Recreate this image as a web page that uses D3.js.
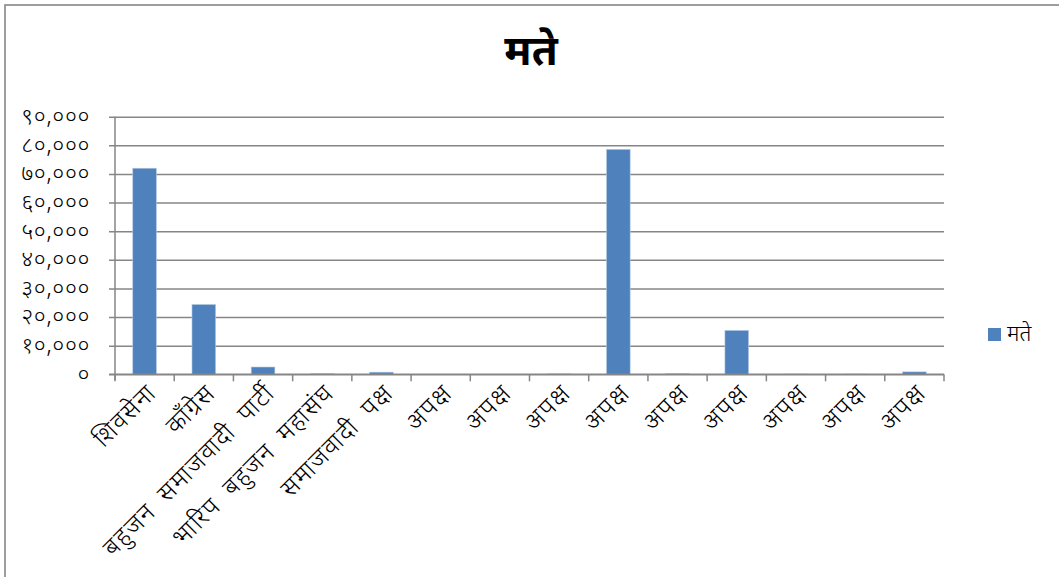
<!DOCTYPE html>
<html>
<head>
<meta charset="utf-8">
<script src="https://cdn.jsdelivr.net/npm/d3@7"></script>
<style>
  html, body { margin: 0; padding: 0; background: #fff; }
  svg { display: block; }
  text { font-family: "Noto Sans Devanagari", "Lohit Devanagari", "Mangal", "Noto Sans", sans-serif; fill: #000; }
</style>
</head>
<body>
<svg id="chart" width="1059" height="577"></svg>
<script>
const chartTitle = "मते";
const seriesName = "मते";
const categories = [
  "शिवसेना", "काँग्रेस", "बहुजन समाजवादी पार्टी", "भारिप बहुजन महासंघ", "समाजवादी पक्ष",
  "अपक्ष", "अपक्ष", "अपक्ष", "अपक्ष", "अपक्ष", "अपक्ष", "अपक्ष", "अपक्ष", "अपक्ष"
];
const values = [72000, 24400, 2550, 200, 750, 0, 0, 150, 78600, 200, 15350, 100, 100, 850];
const yTickValues = [0, 10000, 20000, 30000, 40000, 50000, 60000, 70000, 80000, 90000];
const yTickLabels = ["०", "१०,०००", "२०,०००", "३०,०००", "४०,०००", "५०,०००", "६०,०००", "७०,०००", "८०,०००", "९०,०००"];

const svg = d3.select("#chart");
const W = 1059, H = 577;
const plot = { left: 115, right: 944, top: 116.7, bottom: 374.3 };
const gridColor = "#868686";
const barColor = "#4F81BD";

// outer border (only left and top visible in frame)
svg.append("rect")
  .attr("x", 5).attr("y", 5).attr("width", W + 20).attr("height", H + 20)
  .attr("fill", "#fff").attr("stroke", gridColor).attr("stroke-width", 1.6);

const x = d3.scaleBand().domain(d3.range(categories.length)).range([plot.left, plot.right]).padding(0);
const y = d3.scaleLinear().domain([0, 90000]).range([plot.bottom, plot.top]);

// gridlines + y axis
const yAxis = d3.axisLeft(y).tickValues(yTickValues)
  .tickSize(-(plot.right - plot.left))
  .tickFormat((d, i) => yTickLabels[i]);
const gy = svg.append("g").attr("transform", `translate(${plot.left},0)`).call(yAxis);
gy.select(".domain").remove();
gy.selectAll(".tick line").attr("stroke", gridColor).attr("stroke-width", 1.5)
  .attr("x1", -6);
gy.selectAll(".tick text").attr("x", -25).attr("font-size", 23).attr("font-weight", 300)
  .attr("letter-spacing", 0.6).attr("dy", "0.3em");

// left vertical axis line
svg.append("line").attr("x1", plot.left).attr("x2", plot.left)
  .attr("y1", plot.top).attr("y2", plot.bottom + 6)
  .attr("stroke", gridColor).attr("stroke-width", 1.5);

// bars
const barW = x.bandwidth() * 0.4;
svg.append("g").selectAll("rect").data(values).join("rect")
  .attr("x", (d, i) => x(i) + (x.bandwidth() - barW) / 2)
  .attr("y", d => y(d))
  .attr("width", barW)
  .attr("height", d => y(0) - y(d))
  .attr("fill", barColor)
  .attr("stroke", "#B9CDE5").attr("stroke-width", 0.6);

// x axis line + ticks at category boundaries
svg.append("line").attr("x1", plot.left - 6).attr("x2", plot.right)
  .attr("y1", plot.bottom).attr("y2", plot.bottom)
  .attr("stroke", gridColor).attr("stroke-width", 1.5);
const boundaries = d3.range(categories.length + 1).map(i => plot.left + i * x.step());
svg.append("g").selectAll("line").data(boundaries).join("line")
  .attr("x1", d => d).attr("x2", d => d)
  .attr("y1", plot.bottom).attr("y2", plot.bottom + 7)
  .attr("stroke", gridColor).attr("stroke-width", 1.5);

// x labels
svg.append("g").selectAll("text").data(categories).join("text")
  .attr("transform", (d, i) => `translate(${x(i) + x.bandwidth() / 2 + 7},${plot.bottom + 14}) rotate(-45)`)
  .attr("text-anchor", "end")
  .attr("font-size", 25)
  .attr("font-weight", 300)
  .attr("letter-spacing", 1.5)
  .attr("word-spacing", 6)
  .attr("dy", "0.35em")
  .text(d => d);

// title
svg.append("text").attr("x", 531).attr("y", 65)
  .attr("text-anchor", "middle").attr("font-size", 42).attr("font-weight", "bold")
  .text(chartTitle);

// legend
svg.append("rect").attr("x", 988).attr("y", 328).attr("width", 13).attr("height", 13).attr("fill", barColor);
svg.append("text").attr("x", 1007).attr("y", 341).attr("font-size", 22).attr("font-weight", 300).text(seriesName);
</script>
</body>
</html>
